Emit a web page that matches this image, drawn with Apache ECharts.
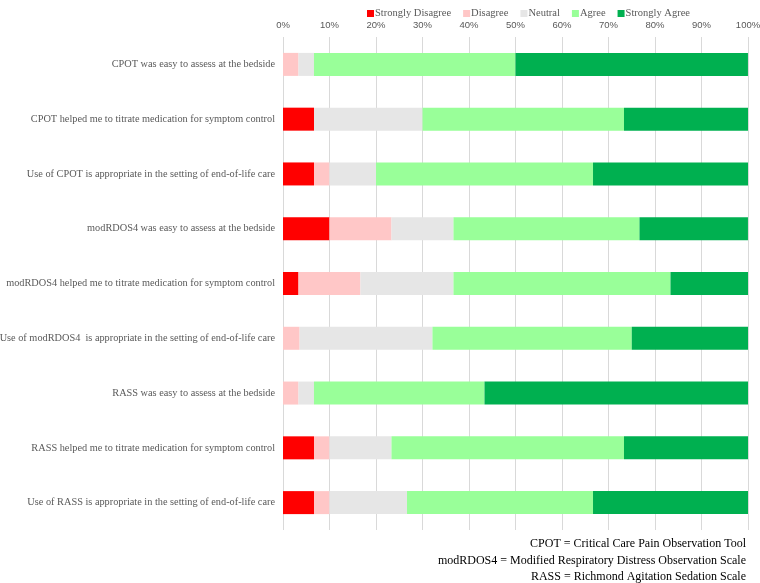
<!DOCTYPE html>
<html>
<head>
<meta charset="utf-8">
<script src="https://cdn.jsdelivr.net/npm/echarts@6/dist/echarts.min.js"></script>
<style>
  html, body { margin: 0; padding: 0; background: #fff; }
  #chart { width: 760px; height: 583px; }
</style>
</head>
<body>
<div id="chart"></div>
<script>
// survey statements, top to bottom
const categories = [
  'CPOT was easy to assess at the bedside',
  'CPOT helped me to titrate medication for symptom control',
  'Use of CPOT is appropriate in the setting of end-of-life care',
  'modRDOS4 was easy to assess at the bedside',
  'modRDOS4 helped me to titrate medication for symptom control',
  'Use of modRDOS4  is appropriate in the setting of end-of-life care',
  'RASS was easy to assess at the bedside',
  'RASS helped me to titrate medication for symptom control',
  'Use of RASS is appropriate in the setting of end-of-life care'
]

// percent of responses per category
const stronglyDisagree = [0, 6.67, 6.67, 10, 3.33, 0, 0, 6.67, 6.67]
const disagree = [3.33, 0, 3.33, 13.33, 13.33, 3.57, 3.33, 3.33, 3.33]
const neutral = [3.33, 23.33, 10, 13.33, 20, 28.57, 3.33, 13.33, 16.67]
const agree = [43.33, 43.33, 46.67, 40, 46.67, 42.86, 36.67, 50, 40]
const stronglyAgree = [50, 26.67, 33.33, 23.33, 16.67, 25, 56.67, 26.67, 33.33]

const footnotes = [
  'CPOT = Critical Care Pain Observation Tool',
  'modRDOS4 = Modified Respiratory Distress Observation Scale',
  'RASS = Richmond Agitation Sedation Scale'
]

const serif = '"Liberation Serif", "Times New Roman", serif'
const sans = '"Liberation Sans", Arial, sans-serif'
const labelGray = '#595959'

const seriesDefs = [
  { name: 'Strongly Disagree', data: stronglyDisagree, color: '#ff0000' },
  { name: 'Disagree', data: disagree, color: '#ffc7c7' },
  { name: 'Neutral', data: neutral, color: '#e6e6e6' },
  { name: 'Agree', data: agree, color: '#99ff99' },
  { name: 'Strongly Agree', data: stronglyAgree, color: '#00b050' }
]

const chart = echarts.init(document.getElementById('chart'))

chart.setOption({
  animation: false,
  legend: {
    top: 8,
    left: 367,
    padding: 0,
    itemWidth: 7,
    itemHeight: 7,
    itemGap: 12,
    icon: 'rect',
    textStyle: { fontFamily: serif, fontSize: 10.5, color: labelGray, padding: [0, 0, 0, -4] },
    data: seriesDefs.map(s => s.name)
  },
  grid: { left: 283, right: 12, top: 37, bottom: 53, outerBoundsMode: 'none' },
  xAxis: {
    type: 'value',
    position: 'top',
    min: 0,
    max: 100,
    interval: 10,
    axisLine: { show: false },
    axisTick: { show: false },
    axisLabel: { formatter: '{value}%', fontFamily: sans, fontSize: 9.5, color: labelGray, margin: 7 },
    splitLine: { lineStyle: { color: '#d9d9d9', width: 1 } }
  },
  yAxis: {
    type: 'category',
    inverse: true,
    data: categories,
    axisLine: { show: false },
    axisTick: { show: false },
    axisLabel: { fontFamily: serif, fontSize: 10.3, color: labelGray, margin: 8 }
  },
  series: seriesDefs.map(s => ({
    name: s.name,
    type: 'bar',
    stack: 'total',
    barWidth: 23,
    data: s.data,
    itemStyle: { color: s.color },
    emphasis: { disabled: true }
  })),
  graphic: footnotes.map((t, i) => ({
    type: 'text',
    right: 14,
    top: 538 + i * 16.5,
    style: { text: t, font: '12px ' + serif, fill: '#000', textAlign: 'right' }
  }))
})
</script>
</body>
</html>
